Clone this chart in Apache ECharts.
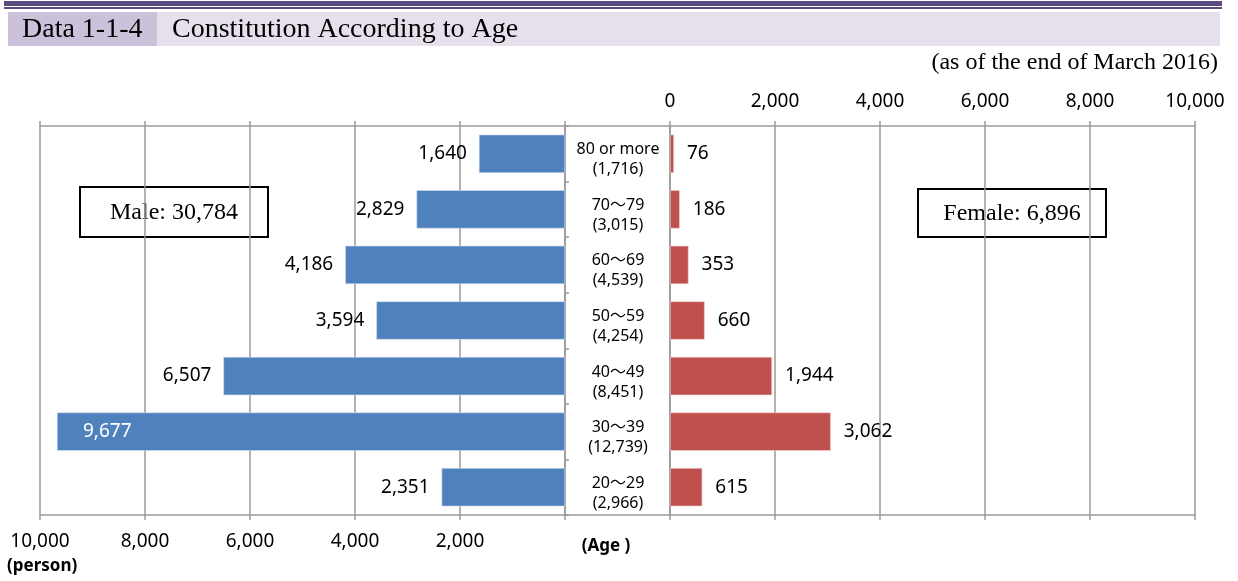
<!DOCTYPE html>
<html>
<head>
<meta charset="utf-8">
<script src="https://cdn.jsdelivr.net/npm/echarts@6/dist/echarts.min.js"></script>
<style>
html,body{margin:0;padding:0;background:#fff;}
#chart{width:1238px;height:581px;}
</style>
</head>
<body>
<div id="chart"></div>
<script>
// ---- data ----
const ageGroups = ["80 or more", "70～79", "60～69", "50～59", "40～49", "30～39", "20～29"];
const groupTotals = [1716, 3015, 4539, 4254, 8451, 12739, 2966];
const maleValues = [1640, 2829, 4186, 3594, 6507, 9677, 2351];
const femaleValues = [76, 186, 353, 660, 1944, 3062, 615];
const axisTicks = [0, 2000, 4000, 6000, 8000, 10000];
const maleTotal = 30784;
const femaleTotal = 6896;
const titleCode = "Data 1-1-4";
const titleText = "Constitution According to Age";
const noteText = "(as of the end of March 2016)";

// ---- helpers ----
const fmt = v => Number(v).toLocaleString('en-US');
const sansFont = '"Noto Sans", "Noto Sans CJK JP", sans-serif';
const serifFont = '"Liberation Serif", "DejaVu Serif", serif';
const gridColor = '#9a9a9a';
const axisMin = axisTicks[0];
const axisMax = axisTicks[axisTicks.length - 1];
const axisStep = axisTicks[1] - axisTicks[0];

// male labels that would not fit to the left of the bar go inside it
const maleData = maleValues.map(v => {
  if (v > axisMax * 0.9) {
    return { value: v, label: { position: 'insideLeft', distance: 26, color: '#ffffff' } };
  }
  return v;
});

const chart = echarts.init(document.getElementById('chart'), null, { renderer: 'canvas' });

const baseValueAxis = {
  type: 'value',
  min: axisMin,
  max: axisMax,
  interval: axisStep,
  axisLine: { show: true, lineStyle: { color: gridColor, width: 1.5 } },
  axisTick: { show: true, length: 5, lineStyle: { color: gridColor, width: 1.5 } },
  splitLine: { show: false },
  axisLabel: { show: false }
};

const option = {
  animation: false,
  backgroundColor: '#ffffff',
  grid: [
    { left: 40, right: 673, top: 126, bottom: 66 },   // male
    { left: 670, right: 43, top: 126, bottom: 66 },   // female
    { left: 565, right: 568, top: 126, bottom: 66 }   // middle strip
  ],
  xAxis: [
    Object.assign({}, baseValueAxis, {
      gridIndex: 0, inverse: true, position: 'bottom',
      splitLine: { show: true, lineStyle: { color: gridColor, width: 1.5 } },
      axisLabel: {
        show: true, margin: 17, color: '#000', fontSize: 19, fontFamily: sansFont,
        formatter: v => (v === 0 ? '' : fmt(v))
      }
    }),
    Object.assign({}, baseValueAxis, { gridIndex: 0, inverse: true, position: 'top' }),
    Object.assign({}, baseValueAxis, {
      gridIndex: 1, position: 'top',
      splitLine: { show: true, lineStyle: { color: gridColor, width: 1.5 } },
      axisLabel: {
        show: true, margin: 15, color: '#000', fontSize: 19, fontFamily: sansFont,
        formatter: v => fmt(v)
      }
    }),
    Object.assign({}, baseValueAxis, { gridIndex: 1, position: 'bottom' }),
    { type: 'value', gridIndex: 2, position: 'top', min: 0, max: 1,
      axisLine: { show: true, lineStyle: { color: gridColor, width: 1.5 } },
      axisTick: { show: false }, axisLabel: { show: false }, splitLine: { show: false } },
    { type: 'value', gridIndex: 2, position: 'bottom', min: 0, max: 1,
      axisLine: { show: true, lineStyle: { color: gridColor, width: 1.5 } },
      axisTick: { show: false }, axisLabel: { show: false }, splitLine: { show: false } }
  ],
  yAxis: [
    {
      type: 'category', gridIndex: 0, data: ageGroups, inverse: true, position: 'right',
      axisLine: { show: true, onZero: false, lineStyle: { color: gridColor, width: 1.5 } },
      axisTick: { show: true, length: 4, lineStyle: { color: gridColor, width: 1.5 } },
      axisLabel: {
        show: true, align: 'center', margin: 53, color: '#000',
        fontSize: 16, lineHeight: 20, fontFamily: sansFont,
        formatter: (v, i) => '{s| }\n{a|' + v + '}\n{a|(' + fmt(groupTotals[i]) + ')}',
        rich: {
          s: { fontSize: 4, lineHeight: 12 },
          a: { fontSize: 16, lineHeight: 20, fontFamily: sansFont, color: '#000' }
        }
      }
    },
    {
      type: 'category', gridIndex: 1, data: ageGroups, inverse: true, position: 'left',
      axisLine: { show: true, onZero: false, lineStyle: { color: gridColor, width: 1.5 } },
      axisTick: { show: false }, axisLabel: { show: false }
    },
    {
      type: 'category', gridIndex: 2, data: ageGroups, inverse: true, show: false
    }
  ],
  series: [
    {
      name: 'Male', type: 'bar', xAxisIndex: 0, yAxisIndex: 0,
      data: maleData, barCategoryGap: '31%',
      itemStyle: { color: '#4f81bd', borderColor: '#d5e0ef', borderWidth: 0.6 },
      label: {
        show: true, position: 'left', distance: 12, color: '#000',
        fontSize: 19, fontFamily: sansFont, formatter: p => fmt(p.value)
      },
      z: 3
    },
    {
      name: 'Female', type: 'bar', xAxisIndex: 2, yAxisIndex: 1,
      data: femaleValues, barCategoryGap: '31%',
      itemStyle: { color: '#c0504d', borderColor: '#f0d5d4', borderWidth: 0.6 },
      label: {
        show: true, position: 'right', distance: 13, color: '#000',
        fontSize: 19, fontFamily: sansFont, formatter: p => fmt(p.value)
      },
      z: 3
    }
  ],
  graphic: [
    { type: 'rect', left: 4, top: 1, shape: { width: 1218, height: 5 }, style: { fill: '#5b4a7e' }, z: 10 },
    { type: 'rect', left: 4, top: 7, shape: { width: 1218, height: 2 }, style: { fill: '#5b4a7e' }, z: 10 },
    { type: 'rect', left: 8, top: 12, shape: { width: 1212, height: 34 }, style: { fill: '#e5e0ec' }, z: 10 },
    { type: 'rect', left: 8, top: 12, shape: { width: 149, height: 34 }, style: { fill: '#ccc1da' }, z: 11 },
    { type: 'text', x: 22, y: 30, style: { text: titleCode, font: '28px ' + serifFont, fill: '#000', verticalAlign: 'middle' }, z: 12 },
    { type: 'text', x: 172, y: 30, style: { text: titleText, font: '28px ' + serifFont, fill: '#000', verticalAlign: 'middle' }, z: 12 },
    { type: 'text', x: 1218, y: 63, style: { text: noteText, font: '24px ' + serifFont, fill: '#000', align: 'right', verticalAlign: 'middle' }, z: 12 },
    {
      type: 'group', left: 79, top: 186, z: 20,
      children: [
        { type: 'rect', shape: { width: 188, height: 50 }, style: { fill: '#fff', stroke: '#000', lineWidth: 2 } },
        { type: 'text', x: 94, y: 26, style: { text: 'Male: ' + fmt(maleTotal), font: '24px ' + serifFont, fill: '#000', align: 'center', verticalAlign: 'middle' } }
      ]
    },
    {
      type: 'group', left: 917, top: 188, z: 20,
      children: [
        { type: 'rect', shape: { width: 188, height: 48 }, style: { fill: '#fff', stroke: '#000', lineWidth: 2 } },
        { type: 'text', x: 94, y: 25, style: { text: 'Female: ' + fmt(femaleTotal), font: '24px ' + serifFont, fill: '#000', align: 'center', verticalAlign: 'middle' } }
      ]
    },
    { type: 'text', x: 606, y: 546, style: { text: '(Age )', font: 'bold 17px ' + sansFont, fill: '#000', align: 'center', verticalAlign: 'middle' }, z: 12 },
    { type: 'text', x: 7, y: 566, style: { text: '(person)', font: 'bold 17px ' + sansFont, fill: '#000', verticalAlign: 'middle' }, z: 12 }
  ]
};

chart.setOption(option);
</script>
</body>
</html>
